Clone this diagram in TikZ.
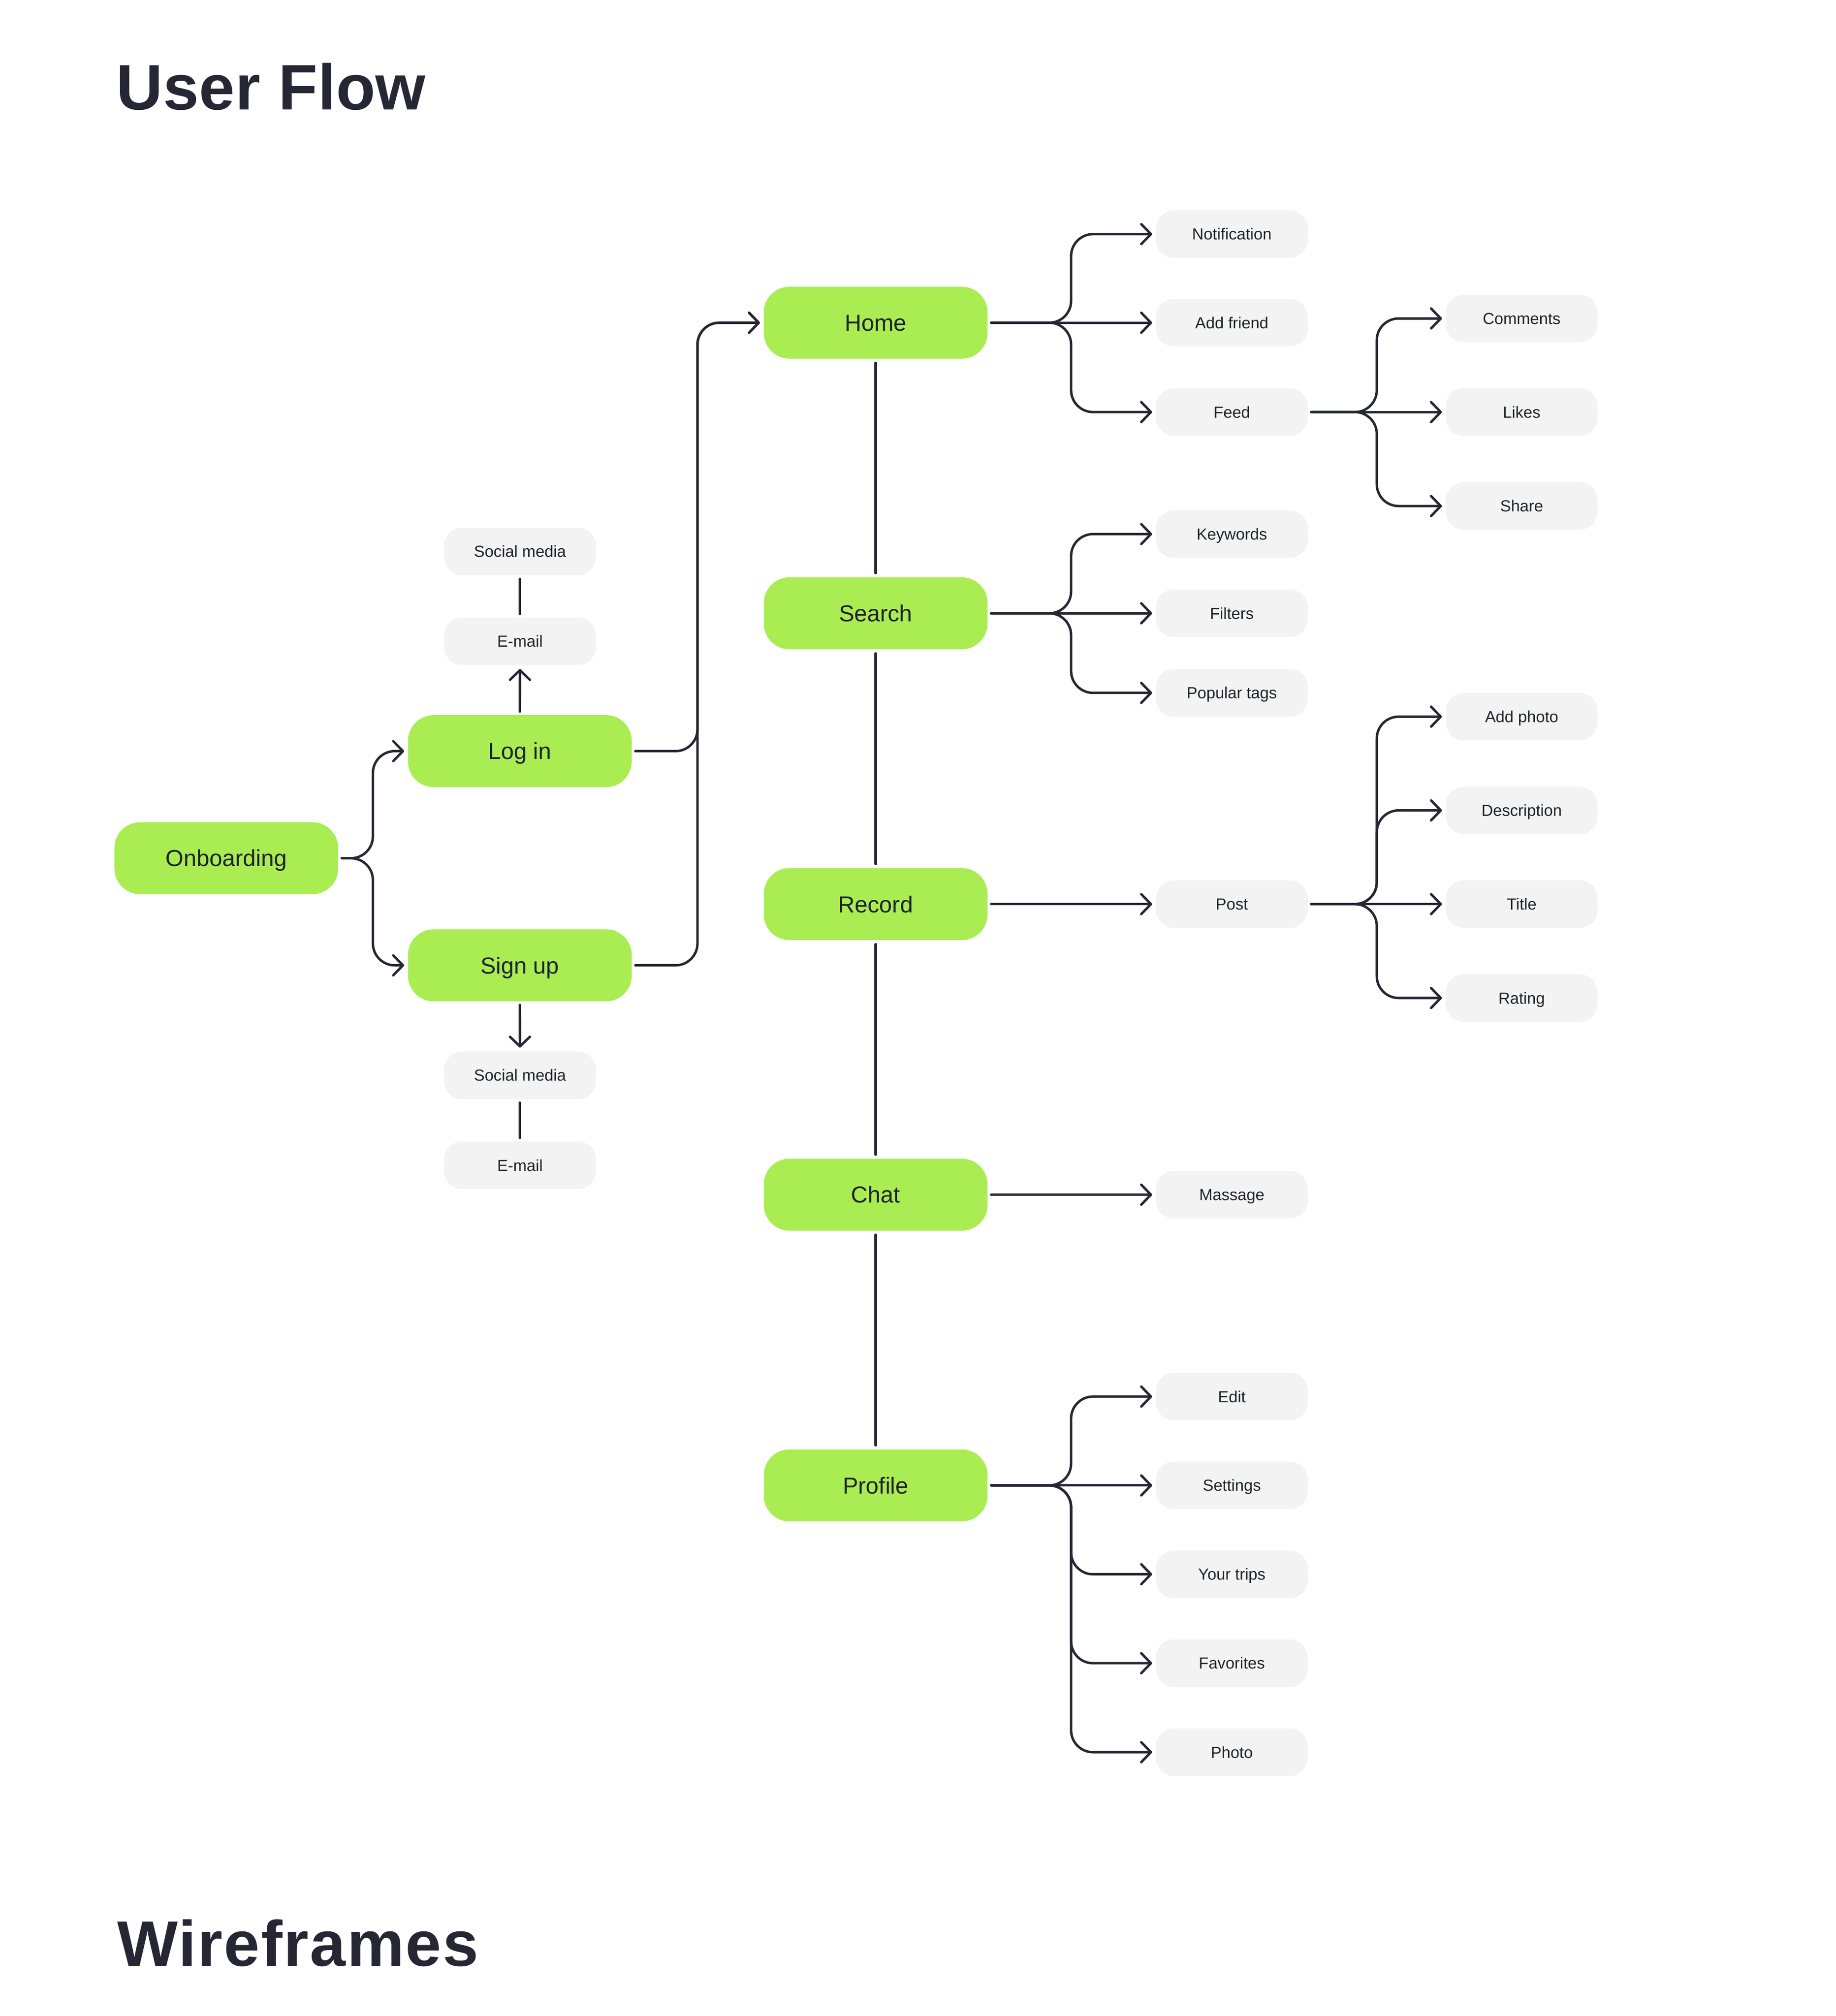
\documentclass[tikz,border=0pt]{standalone}
\usepackage{fontspec}
\setmainfont{Liberation Sans}
\usetikzlibrary{arrows.meta}
\definecolor{lime}{HTML}{A9ED53}
\definecolor{chip}{HTML}{F3F3F3}
\definecolor{ink}{HTML}{262734}
\definecolor{txt}{HTML}{20222B}
\begin{document}
\begin{tikzpicture}[x=1pt,y=-1pt,
  mainnode/.style={fill=lime, rounded corners=20pt, minimum width=174pt, minimum height=56pt,
    inner sep=0pt, text height=12.9pt, text depth=0pt, font=\fontsize{18}{20}\selectfont, text=txt},
  subnode/.style={fill=chip, rounded corners=14pt, minimum width=118pt, minimum height=37pt,
    inner sep=0pt, text height=8.95pt, text depth=0pt, font=\fontsize{12.5}{14}\selectfont, text=txt},
  link/.style={draw=ink, line width=1.9pt, line cap=round, line join=round, shorten <=2.6pt, shorten >=2.6pt},
  arr/.style={link, -{Straight Barb[length=7.5pt,width=15.5pt,round]}, shorten >=2.8pt},
  branch/.style={arr, rounded corners=17pt},
  title/.style={anchor=base west, inner sep=0pt, font=\fontsize{50}{60}\selectfont\bfseries, text=ink}]

\fill[white] (0,0) rectangle (1427.5,1568);
\useasboundingbox (0,0) rectangle (1427.5,1568);

% titles
\node[title] (t1) at (90.5,85.5) {\addfontfeature{LetterSpace=0.4}User Flow};
\node[title] (t2) at (91,1529.2) {\addfontfeature{LetterSpace=2}Wireframes};

% main nodes
\node[mainnode] (onb) at (176,667.5) {Onboarding};
\node[mainnode] (login) at (404.3,584.2) {Log in};
\node[mainnode] (signup) at (404.3,750.8) {Sign up};
\node[mainnode] (home) at (681,251) {Home};
\node[mainnode] (search) at (681,477) {Search};
\node[mainnode] (record) at (681,703.2) {Record};
\node[mainnode] (chat) at (681,929.2) {Chat};
\node[mainnode] (profile) at (681,1155.3) {Profile};

% sub nodes left
\node[subnode] (sm1) at (404.4,428.9) {Social media};
\node[subnode] (em1) at (404.4,498.8) {E-mail};
\node[subnode] (sm2) at (404.4,836.3) {Social media};
\node[subnode] (em2) at (404.4,906.3) {E-mail};

% column 1
\node[subnode] (notif) at (958,182.1) {Notification};
\node[subnode] (addfr) at (958,251) {Add friend};
\node[subnode] (feed) at (958,320.5) {Feed};
\node[subnode] (kw) at (958,415.4) {Keywords};
\node[subnode] (filt) at (958,477) {Filters};
\node[subnode] (ptag) at (958,538.9) {Popular tags};
\node[subnode] (post) at (958,703.2) {Post};
\node[subnode] (mass) at (958,929.2) {Massage};
\node[subnode] (edit) at (958,1086.2) {Edit};
\node[subnode] (sett) at (958,1155.3) {Settings};
\node[subnode] (trips) at (958,1224.4) {Your trips};
\node[subnode] (fav) at (958,1293.6) {Favorites};
\node[subnode] (photo) at (958,1362.8) {Photo};

% column 2
\node[subnode] (comm) at (1183.4,247.7) {Comments};
\node[subnode] (likes) at (1183.4,320.5) {Likes};
\node[subnode] (share) at (1183.4,393.6) {Share};
\node[subnode] (aph) at (1183.4,557.4) {Add photo};
\node[subnode] (desc) at (1183.4,630.3) {Description};
\node[subnode] (titl) at (1183.4,703.2) {Title};
\node[subnode] (rate) at (1183.4,776.2) {Rating};

% junctions
\coordinate (jon) at (290,667.5);
\coordinate (jli) at (542.4,584.2);
\coordinate (jsu) at (542.4,750.8);
\coordinate (jho) at (833,251);
\coordinate (jse) at (833,477);
\coordinate (jpr) at (833,1155.3);
\coordinate (jfe) at (1070.7,320.5);
\coordinate (jpo) at (1070.7,703.2);

% onboarding branches
\draw[branch] (onb.east) -- (jon) |- (login.west);
\draw[branch] (onb.east) -- (jon) |- (signup.west);

% login / signup to home
\draw[branch] (login.east) -- (jli) |- (home.west);
\draw[branch] (signup.east) -- (jsu) |- (home.west);

% login up, signup down
\draw[arr] (login.north) -- (em1.south);
\draw[link] (em1.north) -- (sm1.south);
\draw[arr] (signup.south) -- (sm2.north);
\draw[link] (sm2.south) -- (em2.north);

% main spine
\draw[link, shorten <=3pt, shorten >=3pt] (home.south) -- (search.north);
\draw[link, shorten <=3pt, shorten >=3pt] (search.south) -- (record.north);
\draw[link, shorten <=3pt, shorten >=3pt] (record.south) -- (chat.north);
\draw[link, shorten <=3pt, shorten >=3pt] (chat.south) -- (profile.north);

% home branches
\draw[branch] (home.east) -- (jho) |- (notif.west);
\draw[arr] (home.east) -- (addfr.west);
\draw[branch] (home.east) -- (jho) |- (feed.west);

% feed branches
\draw[branch] (feed.east) -- (jfe) |- (comm.west);
\draw[arr] (feed.east) -- (likes.west);
\draw[branch] (feed.east) -- (jfe) |- (share.west);

% search branches
\draw[branch] (search.east) -- (jse) |- (kw.west);
\draw[arr] (search.east) -- (filt.west);
\draw[branch] (search.east) -- (jse) |- (ptag.west);

% record
\draw[arr] (record.east) -- (post.west);
\draw[branch] (post.east) -- (jpo) |- (aph.west);
\draw[branch] (post.east) -- (jpo) |- (desc.west);
\draw[arr] (post.east) -- (titl.west);
\draw[branch] (post.east) -- (jpo) |- (rate.west);

% chat
\draw[arr] (chat.east) -- (mass.west);

% profile branches
\draw[branch] (profile.east) -- (jpr) |- (edit.west);
\draw[arr] (profile.east) -- (sett.west);
\draw[branch] (profile.east) -- (jpr) |- (trips.west);
\draw[branch] (profile.east) -- (jpr) |- (fav.west);
\draw[branch] (profile.east) -- (jpr) |- (photo.west);

\end{tikzpicture}
\end{document}
